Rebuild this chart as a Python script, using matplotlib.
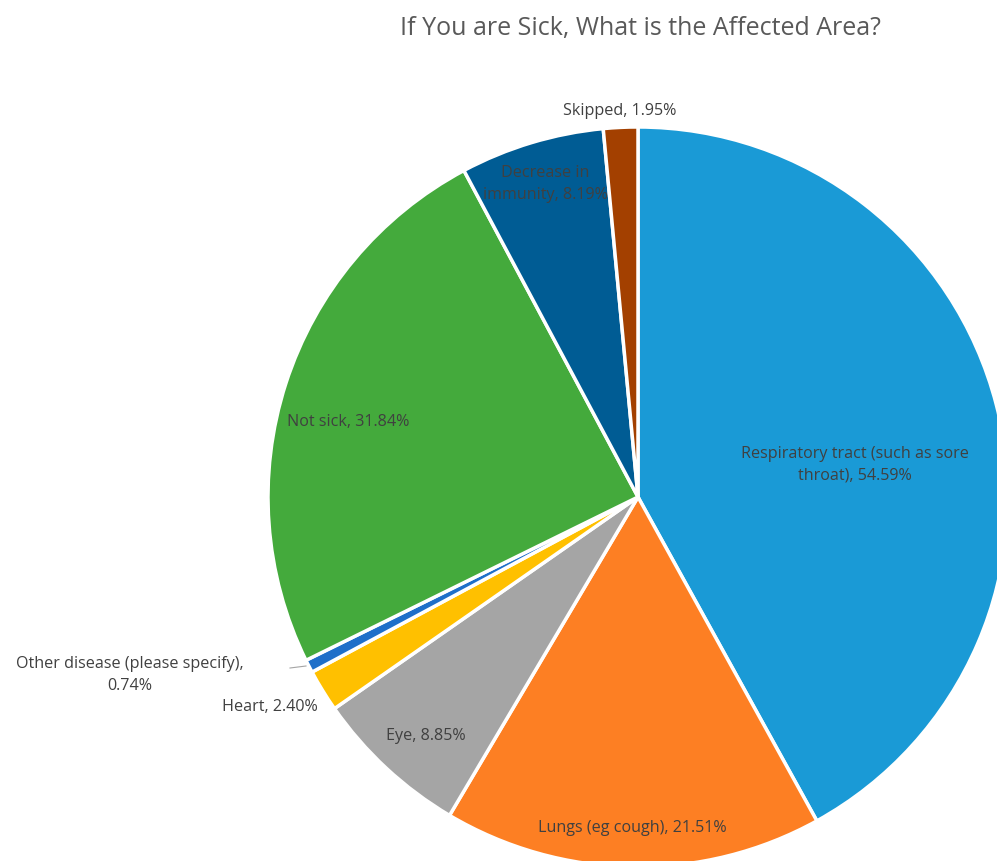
import matplotlib
matplotlib.use("Agg")
import matplotlib.pyplot as plt
import numpy as np

categories = ["Respiratory tract (such as sore\nthroat)", "Lungs (eg cough)", "Eye", "Heart",
              "Other disease (please specify),\n", "Not sick", "Decrease in\nimmunity", "Skipped"]
values = [54.59, 21.51, 8.85, 2.40, 0.74, 31.84, 8.19, 1.95]
colors = ["#1a9ad6", "#fd7f23", "#a5a5a5", "#ffc000", "#1f6fc9", "#44aa3c", "#005c94", "#a34000"]
title = "If You are Sick, What is the Affected Area?"

W, H = 997, 861
fig = plt.figure(figsize=(W / 100, H / 100), dpi=100)
ax = fig.add_axes([0, 0, 1, 1])

cx, cy, R = 638, H - 497, 370
wedges, _ = ax.pie(values, colors=colors, startangle=90, counterclock=False,
                   center=(cx, cy), radius=R, frame=True,
                   wedgeprops=dict(edgecolor="white", linewidth=2.5))
ax.set_xlim(0, W)
ax.set_ylim(0, H)
ax.set_aspect("equal")
ax.axis("off")

# label anchor positions (pixels from top-left)
label_pos = [(855, 465), (632, 828), (426, 736), (270, 707),
             (130, 675), (348, 422), (545, 184), (620, 111)]
fam = ["Open Sans", "DejaVu Sans"]
for cat, v, (px, py) in zip(categories, values, label_pos):
    if cat.endswith("\n"):
        txt = cat + f"{v:.2f}%"
    else:
        txt = cat + f", {v:.2f}%"
    ax.text(px, H - py, txt, ha="center", va="center", fontsize=11.6,
            color="#404040", family=fam, linespacing=1.45)

# leader line for small slice
ax.plot([290, 306], [H - 668, H - 666], color="#a5a5a5", lw=0.8)

ax.text(640, H - 28, title, ha="center", va="center", fontsize=18,
        color="#595959", family=fam)

fig.savefig("out.png", dpi=100)
